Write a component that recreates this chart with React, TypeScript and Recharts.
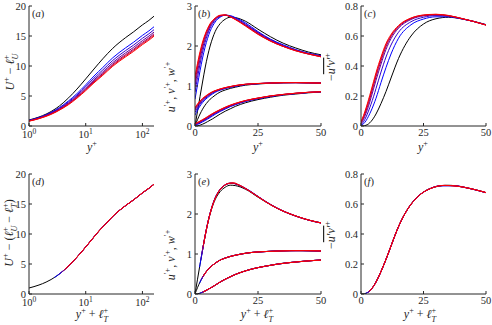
import React from 'react';
import { LineChart, Line, XAxis, YAxis } from 'recharts';

const AX = '#262626';
const FONT = 'Liberation Serif, DejaVu Serif, serif';

// black = smooth wall, then blue -> red
const seriesColors = ['#000000', '#0000ff', '#3300cc', '#660099', '#990066', '#cc0033', '#ff0000'];
const ellT = [0, 1.8, 2.3, 2.7, 3.0, 3.2, 3.4];

// ---------- panel (a): mean velocity ----------
const yPlusLog = [1, 1.5, 2, 3, 4, 5, 7, 10, 14, 20, 30, 50, 70, 100, 130, 160];
const meanBlack = [1.0, 1.5, 1.98, 2.93, 3.85, 4.7, 6.15, 7.85, 9.5, 11.2, 12.95, 14.7, 15.7, 16.85, 17.6, 18.3];
const mean1 = [0.94, 1.42, 1.87, 2.73, 3.5, 4.2, 5.4, 6.86, 8.33, 9.75, 11.37, 13.0, 13.97, 15.1, 15.85, 16.54];
const mean2 = [0.92, 1.37, 1.81, 2.63, 3.36, 4.03, 5.17, 6.57, 7.98, 9.34, 10.93, 12.54, 13.49, 14.62, 15.37, 16.05];
const mean3 = [0.88, 1.33, 1.75, 2.52, 3.24, 3.87, 4.99, 6.33, 7.69, 9.01, 10.57, 12.16, 13.11, 14.23, 14.98, 15.65];
const mean4 = [0.85, 1.28, 1.7, 2.45, 3.15, 3.75, 4.85, 6.15, 7.48, 8.77, 10.31, 11.88, 12.82, 13.94, 14.69, 15.36];
const mean5 = [0.83, 1.25, 1.65, 2.39, 3.07, 3.66, 4.74, 6.02, 7.33, 8.61, 10.13, 11.69, 12.63, 13.75, 14.49, 15.16];
const mean6 = [0.8, 1.22, 1.6, 2.33, 2.99, 3.57, 4.63, 5.89, 7.19, 8.45, 9.96, 11.5, 12.44, 13.56, 14.3, 14.97];
const meanProfiles = [meanBlack, mean1, mean2, mean3, mean4, mean5, mean6];

// ---------- panel (b): rms velocities ----------
const yPlusLin = [0, 1, 2, 3, 4, 5, 6, 7, 8, 10, 12, 14, 16, 20, 25, 30, 35, 40, 45, 50];
const uBlack = [0, 0.37, 0.74, 1.1, 1.45, 1.75, 2.0, 2.2, 2.36, 2.56, 2.67, 2.72, 2.71, 2.62, 2.42, 2.23, 2.07, 1.95, 1.85, 1.78];
const u1 = [0.67, 1.03, 1.38, 1.7, 1.97, 2.19, 2.37, 2.5, 2.6, 2.72, 2.77, 2.76, 2.71, 2.58, 2.36, 2.17, 2.03, 1.91, 1.82, 1.76];
const u2 = [0.85, 1.21, 1.55, 1.85, 2.09, 2.29, 2.45, 2.56, 2.64, 2.74, 2.77, 2.75, 2.7, 2.55, 2.34, 2.16, 2.01, 1.9, 1.81, 1.75];
const u3 = [1.0, 1.35, 1.67, 1.95, 2.17, 2.35, 2.49, 2.59, 2.66, 2.75, 2.77, 2.74, 2.68, 2.53, 2.33, 2.14, 2.0, 1.89, 1.81, 1.74];
const u4 = [1.1, 1.45, 1.76, 2.02, 2.23, 2.4, 2.52, 2.62, 2.68, 2.76, 2.77, 2.73, 2.67, 2.52, 2.31, 2.13, 1.99, 1.89, 1.8, 1.74];
const u5 = [1.17, 1.51, 1.81, 2.06, 2.26, 2.42, 2.54, 2.63, 2.69, 2.76, 2.77, 2.73, 2.67, 2.51, 2.3, 2.12, 1.99, 1.88, 1.8, 1.73];
const u6 = [1.24, 1.57, 1.86, 2.1, 2.29, 2.44, 2.56, 2.64, 2.7, 2.77, 2.78, 2.73, 2.66, 2.5, 2.29, 2.12, 1.99, 1.88, 1.8, 1.73];
const uRms = [uBlack, u1, u2, u3, u4, u5, u6];

const vBlack = [0, 0.005, 0.02, 0.045, 0.075, 0.11, 0.145, 0.18, 0.22, 0.3, 0.37, 0.43, 0.49, 0.58, 0.66, 0.72, 0.77, 0.8, 0.83, 0.85];
const v1 = [0.016, 0.04, 0.069, 0.103, 0.138, 0.173, 0.212, 0.252, 0.292, 0.363, 0.424, 0.484, 0.531, 0.612, 0.682, 0.738, 0.781, 0.811, 0.837, 0.854];
const v2 = [0.027, 0.054, 0.085, 0.12, 0.155, 0.192, 0.232, 0.272, 0.311, 0.379, 0.439, 0.497, 0.542, 0.62, 0.688, 0.743, 0.784, 0.814, 0.839, 0.855];
const v3 = [0.037, 0.066, 0.1, 0.135, 0.17, 0.208, 0.248, 0.288, 0.325, 0.391, 0.451, 0.506, 0.551, 0.627, 0.692, 0.747, 0.786, 0.816, 0.84, 0.856];
const v4 = [0.045, 0.075, 0.11, 0.145, 0.18, 0.22, 0.26, 0.3, 0.335, 0.4, 0.46, 0.51, 0.555, 0.632, 0.696, 0.75, 0.788, 0.818, 0.842, 0.856];
const v5 = [0.051, 0.082, 0.117, 0.152, 0.188, 0.228, 0.268, 0.307, 0.342, 0.406, 0.466, 0.518, 0.562, 0.634, 0.698, 0.752, 0.789, 0.819, 0.842, 0.857];
const v6 = [0.057, 0.088, 0.124, 0.159, 0.196, 0.236, 0.276, 0.314, 0.349, 0.412, 0.472, 0.523, 0.566, 0.637, 0.7, 0.754, 0.79, 0.82, 0.843, 0.857];
const vRms = [vBlack, v1, v2, v3, v4, v5, v6];

const wBlack = [0, 0.16, 0.3, 0.42, 0.52, 0.6, 0.67, 0.72, 0.77, 0.85, 0.9, 0.94, 0.97, 1.02, 1.05, 1.07, 1.08, 1.085, 1.08, 1.075];
const w1 = [0.27, 0.396, 0.5, 0.584, 0.656, 0.71, 0.76, 0.802, 0.842, 0.895, 0.936, 0.967, 0.992, 1.034, 1.057, 1.074, 1.082, 1.084, 1.079, 1.072];
const w2 = [0.34, 0.45, 0.544, 0.621, 0.685, 0.735, 0.782, 0.822, 0.858, 0.906, 0.945, 0.974, 0.998, 1.038, 1.059, 1.075, 1.083, 1.084, 1.079, 1.072];
const w3 = [0.384, 0.49, 0.576, 0.649, 0.705, 0.755, 0.798, 0.838, 0.868, 0.914, 0.95, 0.979, 1.003, 1.04, 1.06, 1.075, 1.083, 1.084, 1.079, 1.072];
const w4 = [0.42, 0.52, 0.6, 0.67, 0.72, 0.77, 0.81, 0.85, 0.875, 0.92, 0.955, 0.982, 1.007, 1.042, 1.061, 1.075, 1.083, 1.084, 1.079, 1.072];
const w5 = [0.44, 0.536, 0.614, 0.68, 0.73, 0.778, 0.818, 0.855, 0.88, 0.924, 0.958, 0.985, 1.01, 1.043, 1.062, 1.075, 1.083, 1.084, 1.079, 1.072];
const w6 = [0.46, 0.552, 0.628, 0.69, 0.74, 0.786, 0.826, 0.86, 0.885, 0.928, 0.961, 0.987, 1.012, 1.044, 1.063, 1.075, 1.083, 1.084, 1.079, 1.072];
const wRms = [wBlack, w1, w2, w3, w4, w5, w6];

// ---------- panel (c): Reynolds shear stress ----------
const yPlusStress = [0, 1, 2, 3, 4, 5, 6, 8, 10, 12, 15, 20, 25, 30, 35, 40, 45, 50];
const uvBlack = [0, 0.001, 0.005, 0.014, 0.03, 0.052, 0.08, 0.15, 0.23, 0.32, 0.45, 0.6, 0.68, 0.715, 0.725, 0.715, 0.698, 0.676];
const uv1 = [0.004, 0.015, 0.035, 0.065, 0.1, 0.14, 0.185, 0.29, 0.39, 0.48, 0.585, 0.675, 0.713, 0.728, 0.728, 0.715, 0.697, 0.675];
const uv2 = [0.008, 0.028, 0.06, 0.1, 0.145, 0.195, 0.25, 0.36, 0.46, 0.54, 0.625, 0.695, 0.725, 0.736, 0.732, 0.716, 0.697, 0.674];
const uv3 = [0.015, 0.045, 0.085, 0.132, 0.188, 0.246, 0.305, 0.413, 0.51, 0.582, 0.652, 0.71, 0.734, 0.74, 0.734, 0.717, 0.697, 0.674];
const uv4 = [0.02, 0.055, 0.1, 0.15, 0.208, 0.268, 0.328, 0.435, 0.528, 0.595, 0.66, 0.715, 0.737, 0.742, 0.735, 0.717, 0.697, 0.673];
const uv5 = [0.025, 0.062, 0.11, 0.163, 0.222, 0.282, 0.342, 0.448, 0.54, 0.603, 0.665, 0.718, 0.739, 0.744, 0.736, 0.718, 0.697, 0.673];
const uv6 = [0.03, 0.07, 0.12, 0.175, 0.235, 0.295, 0.355, 0.46, 0.55, 0.61, 0.67, 0.72, 0.74, 0.745, 0.737, 0.718, 0.697, 0.673];
const uvStress = [uvBlack, uv1, uv2, uv3, uv4, uv5, uv6];

// ---------- panel (f): shear stress vs y+ + lT+ ----------
const uvShift1 = [0.004, 0.012, 0.026, 0.047, 0.074, 0.106, 0.142, 0.222, 0.311, 0.4, 0.512, 0.634, 0.696, 0.721, 0.723, 0.709, 0.69, 0.667];
const uvShift2 = [0.007, 0.018, 0.036, 0.06, 0.09, 0.124, 0.162, 0.244, 0.333, 0.421, 0.527, 0.643, 0.7, 0.722, 0.722, 0.708, 0.688, 0.665];
const uvShift3 = [0.011, 0.024, 0.044, 0.07, 0.103, 0.138, 0.178, 0.261, 0.351, 0.437, 0.539, 0.649, 0.703, 0.723, 0.721, 0.707, 0.686, 0.663];
const uvShift4 = [0.014, 0.03, 0.052, 0.08, 0.113, 0.15, 0.19, 0.275, 0.365, 0.45, 0.548, 0.653, 0.705, 0.724, 0.72, 0.705, 0.685, 0.662];
const uvShift5 = [0.017, 0.034, 0.057, 0.086, 0.12, 0.158, 0.198, 0.284, 0.374, 0.457, 0.553, 0.656, 0.706, 0.724, 0.72, 0.705, 0.684, 0.661];
const uvShift6 = [0.02, 0.038, 0.062, 0.093, 0.127, 0.166, 0.206, 0.293, 0.382, 0.464, 0.559, 0.659, 0.707, 0.724, 0.719, 0.704, 0.684, 0.66];
const uvShifted = [uvBlack, uvShift1, uvShift2, uvShift3, uvShift4, uvShift5, uvShift6];

// ---------- ticks ----------
const logTicks = [1, 10, 100];
const logMinorTicks = [2, 3, 4, 5, 6, 7, 8, 9, 20, 30, 40, 50, 60, 70, 80, 90];
const linTicks = [0, 25, 50];
const meanTicks = [0, 5, 10, 15, 20];
const rmsTicks = [0, 1, 2, 3];
const stressTicks = [0, 0.2, 0.4, 0.6, 0.8];

type Pt = { x: number; y: number };
type Series = { pts: Pt[]; color: string };
const pts = (xs: number[], ys: number[], sx = 0, sy = 0): Pt[] => xs.map((x, i) => ({ x: x + sx, y: ys[i] + sy }));

const seriesA: Series[] = meanProfiles.map((ys, k) => ({ pts: pts(yPlusLog, ys), color: seriesColors[k] }));
const seriesD: Series[] = meanProfiles.map((ys, k) => ({ pts: pts(yPlusLog, ys, ellT[k], ellT[k]), color: seriesColors[k] }));
const seriesB: Series[] = [];
const seriesE: Series[] = [];
seriesColors.forEach((c, k) => {
  [uRms[k], wRms[k], vRms[k]].forEach((ys) => {
    seriesB.push({ pts: pts(yPlusLin, ys), color: c });
    seriesE.push({ pts: pts(yPlusLin, ys, ellT[k]), color: c });
  });
});
const seriesC: Series[] = uvStress.map((ys, k) => ({ pts: pts(yPlusStress, ys), color: seriesColors[k] }));
const seriesF: Series[] = uvShifted.map((ys, k) => ({ pts: pts(yPlusStress, ys, ellT[k]), color: seriesColors[k] }));

const LogTick = (props: any) => {
  const { x, y, payload } = props;
  const e = Math.round(Math.log10(payload.value));
  return (
    <text x={x} y={y} textAnchor="middle" fill={AX} style={{ fontFamily: FONT }} fontSize={10.5}>
      <tspan dy={9}>10</tspan>
      <tspan dy={-4.5} fontSize={7.5}>{e}</tspan>
    </text>
  );
};

type PanelProps = {
  left: number; top: number; w: number; h: number; series: Series[];
  xDomain: [number, number]; yDomain: [number, number]; xTicks: number[]; yTicks: number[]; log?: boolean;
};

function Panel({ left, top, w, h, series, xDomain, yDomain, xTicks, yTicks, log }: PanelProps) {
  const YW = 30, XH = 24, MT = 5, MR = 6;
  const tickStyle = { fill: AX, fontSize: 10.5, style: { fontFamily: FONT } };
  return (
    <div style={{ position: 'absolute', left: left - YW, top: top - MT }}>
      <LineChart width={YW + w + MR} height={MT + h + XH} margin={{ top: MT, right: MR, left: 0, bottom: 0 }}>
        {log && (
          <XAxis xAxisId="minB" type="number" scale="log" domain={xDomain} ticks={logMinorTicks} allowDataOverflow
            height={0} tick={false} tickSize={-2} axisLine={false} interval={0} stroke={AX} />
        )}
        {log && (
          <XAxis xAxisId="minT" orientation="top" type="number" scale="log" domain={xDomain} ticks={logMinorTicks} allowDataOverflow
            height={0} tick={false} tickSize={-2} axisLine={false} interval={0} stroke={AX} />
        )}
        <XAxis xAxisId="b" dataKey="x" type="number" scale={log ? 'log' : 'linear'} domain={xDomain} ticks={xTicks}
          allowDataOverflow height={XH} tickSize={-3} tickMargin={6} interval={0} stroke={AX}
          tick={log ? <LogTick /> : tickStyle} />
        <XAxis xAxisId="t" orientation="top" type="number" scale={log ? 'log' : 'linear'} domain={xDomain} ticks={xTicks}
          allowDataOverflow height={0} tickSize={-3} tick={false} interval={0} stroke={AX} />
        <YAxis yAxisId="l" type="number" domain={yDomain} ticks={yTicks} allowDataOverflow width={YW}
          tickSize={-3} tickMargin={6} interval={0} stroke={AX} tick={tickStyle} />
        <YAxis yAxisId="r" orientation="right" type="number" domain={yDomain} ticks={yTicks} allowDataOverflow width={0}
          tickSize={-3} tick={false} interval={0} stroke={AX} />
        {series.map((s, i) => (
          <Line key={i} xAxisId="b" yAxisId="l" data={s.pts} dataKey="y" type="monotone" stroke={s.color}
            strokeWidth={1} dot={false} activeDot={false} isAnimationActive={false} />
        ))}
      </LineChart>
    </div>
  );
}

type Piece = { t: string; it?: boolean; sup?: boolean; sub?: boolean; dx?: number; ol?: boolean };

function MathLabel({ x, y, pieces, rotate = false, size = 12 }: { x: number; y: number; pieces: Piece[]; rotate?: boolean; size?: number }) {
  let cur = 0;
  return (
    <text transform={`translate(${x},${y})${rotate ? ' rotate(-90)' : ''}`} textAnchor="middle" style={{ fontFamily: FONT }} fontSize={size} fill={AX}>
      {pieces.map((p, i) => {
        const target = p.sup ? -0.42 * size : p.sub ? 0.3 * size : 0;
        const dy = target - cur;
        cur = target;
        return (
          <tspan key={i} dy={dy} dx={p.dx} fontStyle={p.it ? 'italic' : 'normal'}
            fontSize={p.sup || p.sub ? size * 0.68 : size} textDecoration={p.ol ? 'overline' : undefined}>
            {p.t}
          </tspan>
        );
      })}
    </text>
  );
}

const NB = '\u00a0';
const labelMeanA: Piece[] = [{ t: 'U', it: true }, { t: '+', sup: true }, { t: `${NB}−${NB}` }, { t: 'ℓ', it: true }, { t: '+', sup: true }, { t: 'U', it: true, sub: true, dx: -4.6 }];
const labelMeanD: Piece[] = [
  { t: 'U', it: true }, { t: '+', sup: true }, { t: `${NB}−${NB}(` }, { t: 'ℓ', it: true }, { t: '+', sup: true }, { t: 'U', it: true, sub: true, dx: -4.6 },
  { t: `${NB}−${NB}` }, { t: 'ℓ', it: true }, { t: '+', sup: true }, { t: 'T', it: true, sub: true, dx: -4.6 }, { t: ')' },
];
const labelRms: Piece[] = [
  { t: 'u', it: true }, { t: '′+', sup: true }, { t: `,${NB}` }, { t: 'v', it: true }, { t: '′+', sup: true }, { t: `,${NB}` }, { t: 'w', it: true }, { t: '′+', sup: true },
];
const labelStress: Piece[] = [{ t: '−' }, { t: 'u′v′', it: true, ol: true }, { t: '+', sup: true }];
const labelY: Piece[] = [{ t: 'y', it: true }, { t: '+', sup: true }];
const labelYT: Piece[] = [{ t: 'y', it: true }, { t: '+', sup: true }, { t: `${NB}+${NB}` }, { t: 'ℓ', it: true }, { t: '+', sup: true }, { t: 'T', it: true, sub: true, dx: -4.6 }];

function Tag({ x, y, letter }: { x: number; y: number; letter: string }) {
  return (
    <text x={x} y={y} style={{ fontFamily: FONT }} fontSize={10.5} fill={AX}>
      (<tspan fontStyle="italic">{letter}</tspan>)
    </text>
  );
}

export default function App() {
  const W = 125, H = 120;
  const cols = [29, 195, 361];
  const rows = [6, 174];
  return (
    <div style={{ position: 'absolute', left: 0, top: 0, width: 492, height: 325, background: '#fff', overflow: 'hidden' }}>
      <Panel left={cols[0]} top={rows[0]} w={W} h={H} series={seriesA} xDomain={[1, 160]} yDomain={[0, 20]} xTicks={logTicks} yTicks={meanTicks} log />
      <Panel left={cols[1]} top={rows[0]} w={126} h={H} series={seriesB} xDomain={[0, 50]} yDomain={[0, 3]} xTicks={linTicks} yTicks={rmsTicks} />
      <Panel left={cols[2]} top={rows[0]} w={W} h={H} series={seriesC} xDomain={[0, 50]} yDomain={[0, 0.8]} xTicks={linTicks} yTicks={stressTicks} />
      <Panel left={cols[0]} top={rows[1]} w={W} h={H} series={seriesD} xDomain={[1, 160]} yDomain={[0, 20]} xTicks={logTicks} yTicks={meanTicks} log />
      <Panel left={cols[1]} top={rows[1]} w={126} h={H} series={seriesE} xDomain={[0, 50]} yDomain={[0, 3]} xTicks={linTicks} yTicks={rmsTicks} />
      <Panel left={cols[2]} top={rows[1]} w={W} h={H} series={seriesF} xDomain={[0, 50]} yDomain={[0, 0.8]} xTicks={linTicks} yTicks={stressTicks} />
      <svg width={492} height={325} style={{ position: 'absolute', left: 0, top: 0, pointerEvents: 'none' }}>
        <MathLabel x={14} y={72} pieces={labelMeanA} rotate />
        <MathLabel x={175} y={87} pieces={labelRms} rotate />
        <MathLabel x={335} y={67} pieces={labelStress} rotate />
        <MathLabel x={13} y={233} pieces={labelMeanD} rotate />
        <MathLabel x={175} y={255} pieces={labelRms} rotate />
        <MathLabel x={335} y={235} pieces={labelStress} rotate />
        <MathLabel x={92} y={151} pieces={labelY} />
        <MathLabel x={258} y={151} pieces={labelY} />
        <MathLabel x={423} y={151} pieces={labelY} />
        <MathLabel x={92} y={318} pieces={labelYT} />
        <MathLabel x={257} y={318} pieces={labelYT} />
        <MathLabel x={420} y={318} pieces={labelYT} />
        <Tag x={32} y={17} letter="a" />
        <Tag x={198} y={17} letter="b" />
        <Tag x={364} y={17} letter="c" />
        <Tag x={32} y={185} letter="d" />
        <Tag x={198} y={185} letter="e" />
        <Tag x={364} y={185} letter="f" />
      </svg>
    </div>
  );
}
